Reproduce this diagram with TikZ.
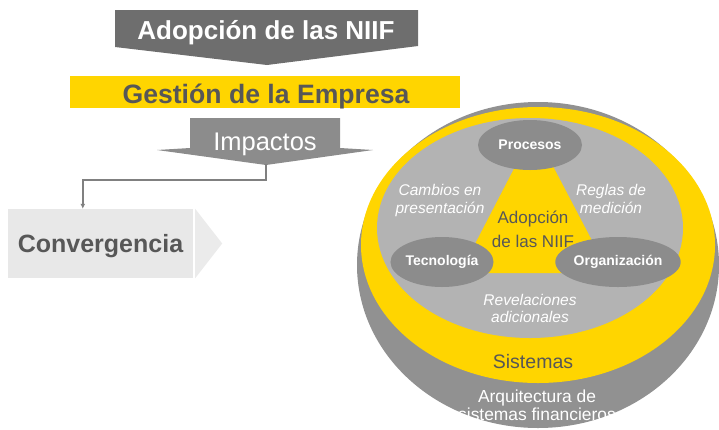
\documentclass[tikz,border=0pt]{standalone}
\usepackage{fontspec}
\setmainfont{Liberation Sans}
\usetikzlibrary{arrows.meta,shapes.geometric}
\definecolor{niifyellow}{HTML}{FFD500}
\definecolor{darkgrey}{HTML}{6E6E6E}
\definecolor{midgrey}{HTML}{8C8C8C}
\definecolor{ringgrey}{HTML}{919191}
\definecolor{innergrey}{HTML}{B3B3B3}
\definecolor{boxgrey}{HTML}{E8E8E8}
\definecolor{textgrey}{HTML}{575757}

\begin{document}
\begin{tikzpicture}[x=1pt,y=-1pt,
    bubble/.style={ellipse,fill=midgrey,text=white,inner sep=0pt,
      font=\fontsize{14}{16}\selectfont\bfseries,minimum width=104pt,minimum height=50pt},
    note/.style={anchor=base,align=center,text=white,font=\fontsize{15.5}{18}\selectfont\itshape},
    heading/.style={anchor=base,font=\fontsize{26}{30}\selectfont\bfseries}]
  \useasboundingbox (0,0) rectangle (719,429);

  % top of the cascade
  \fill[darkgrey] (115,10)--(418,10)--(418,46)--(267,65)--(115,47)--cycle;
  \node[heading,text=white] (adopcion) at (266,39) {Adopción de las NIIF};
  \fill[niifyellow] (70,76) rectangle (460,108);
  \node[heading,text=textgrey,font=\fontsize{26.6}{30}\selectfont\bfseries] (gestion) at (266,103) {Gestión de la Empresa};
  \fill[midgrey] (190,118)--(340,118)--(340,148)--(373,150)--(266,165)--(157,150)--(190,148)--cycle;
  \node[anchor=base,text=white,font=\fontsize{25.5}{30}\selectfont] (impactos) at (265,150) {Impactos};
  \coordinate (imptip) at (266,164);

  % convergencia
  \node[fill=boxgrey,minimum width=185pt,minimum height=69pt,text depth=0pt,
    text=textgrey,font=\fontsize{25}{30}\selectfont\bfseries] (conv) at (100.5,243.5) {Convergencia};
  \fill[boxgrey!85] ([xshift=2pt]conv.north east)--([xshift=29pt]conv.east)--([xshift=2pt]conv.south east)--cycle;
  \draw[line width=1.5pt,draw=black!50,-{Latex[length=5pt,width=5pt]}]
    (imptip)--++(0,16)-|([xshift=75pt]conv.north west);

  % circles
  \fill[ringgrey] (538,265) ellipse [x radius=181,y radius=163];
  \fill[niifyellow] (538,245) ellipse [x radius=177,y radius=138];
  \fill[innergrey] (530,228) ellipse [x radius=153,y radius=110];
  \fill[niifyellow] (534,130)--(460,273)--(609,273)--cycle;

  \node[bubble] (procesos) at (530,145) {Procesos};
  \node[bubble,minimum width=100pt] (tecnologia) at (442,262) {Tecnología};
  \node[bubble] (organizacion) at (618,262) {Organización};

  \node[note] (cambios) at (440,213) {Cambios en\\presentación};
  \node[note] (reglas) at (611,213) {Reglas de\\medición};
  \node[note,font=\fontsize{15.5}{17}\selectfont\itshape] (revelaciones) at (530,322) {Revelaciones\\adicionales};
  \node[anchor=base,align=center,text=textgrey,font=\fontsize{17}{24}\selectfont] (centro) at (533,247) {Adopción\\de las NIIF};
  \node[anchor=base,text=textgrey,font=\fontsize{19.5}{22}\selectfont] (sistemas) at (533,368) {Sistemas};
  \node[anchor=base,align=center,text=white,font=\fontsize{17.4}{18}\selectfont] (arquitectura) at (537,420) {Arquitectura de\\sistemas financieros};
\end{tikzpicture}
\end{document}
